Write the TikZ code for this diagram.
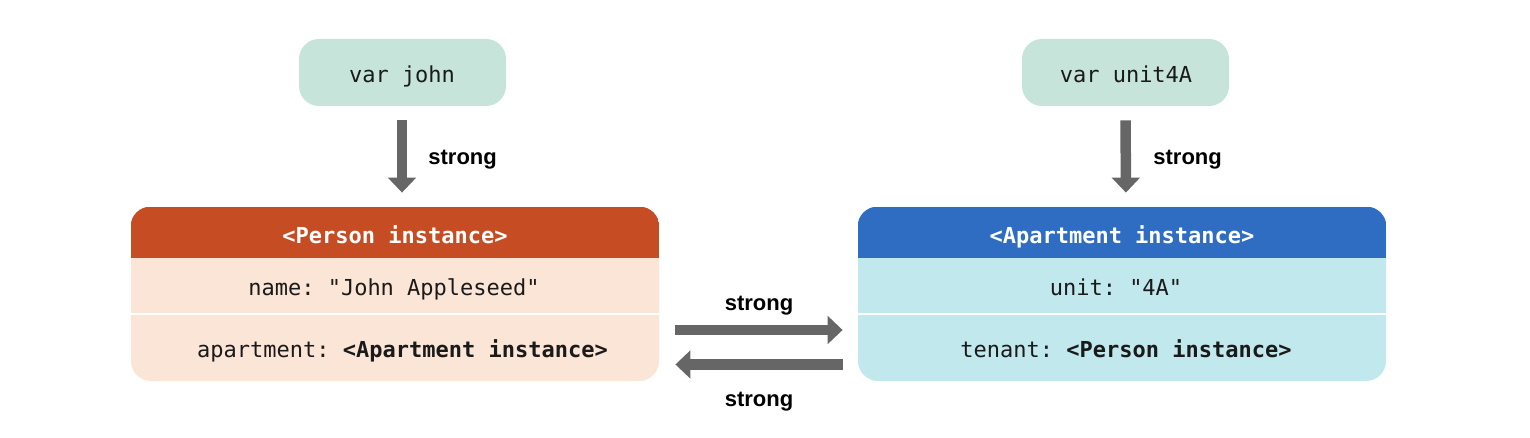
\documentclass[tikz,border=0pt]{standalone}
\usepackage{fontspec}
\setmainfont{Liberation Sans}
\setsansfont{Liberation Sans}
\setmonofont{DejaVu Sans Mono}
\usetikzlibrary{arrows.meta}
\definecolor{varfill}{HTML}{C6E4DA}
\definecolor{phead}{HTML}{C64D23}
\definecolor{pbody}{HTML}{FBE5D6}
\definecolor{ahead}{HTML}{2F6DC3}
\definecolor{abody}{HTML}{C1E8EC}
\definecolor{arrowgray}{HTML}{666666}
\definecolor{ink}{HTML}{1A1A1A}
\tikzset{
  varbox/.style={fill=varfill, rounded corners=10pt, minimum width=103.5pt, minimum height=33.5pt, inner sep=0pt},
  objbox/.style={rounded corners=10pt, minimum width=264pt, minimum height=87pt, inner sep=0pt},
  mono/.style={font=\fontsize{11pt}{13pt}\selectfont\ttfamily, text=ink, inner sep=0pt},
  headtxt/.style={font=\fontsize{11pt}{13pt}\selectfont\ttfamily\bfseries, text=white, inner sep=0pt},
  lbl/.style={font=\fontsize{11pt}{13pt}\selectfont\sffamily\bfseries, text=black, inner sep=0pt},
  strongarrow/.style={draw=arrowgray, line width=5.25pt, -{Triangle[width=13.75pt,length=7.5pt]}},
  sep/.style={draw=white, line width=1pt}
}
\begin{document}
\begin{tikzpicture}[x=0.5pt,y=-0.5pt]
\useasboundingbox (0,0) rectangle (1530,438);
% variable boxes
\node[varbox] (john) at (402.5,72.5) {};
\node[mono, anchor=base] (johntxt) at (402,83) {var john};
\node[varbox] (unit) at (1125.5,72.5) {};
\node[mono, anchor=base] (unittxt) at (1126,83) {var unit4A};
% Person instance
\node[objbox, fill=pbody] (person) at (395,294) {};
\begin{scope}
  \clip[rounded corners=10pt] (person.north west) rectangle (person.south east);
  \fill[phead] (person.north west) rectangle ([yshift=-25.5pt]person.north east);
\end{scope}
\draw[sep] ([yshift=-9.75pt]person.west) -- ([yshift=-9.75pt]person.east);
\node[headtxt, anchor=base] (phtxt) at (395,243) {<Person instance>};
\node[mono, anchor=base] (pname) at (394,295) {name: "John Appleseed"};
\node[mono, anchor=base] (papt) at (402.5,357) {apartment: \textbf{<Apartment instance>}};
% Apartment instance
\node[objbox, fill=abody] (apt) at (1122,294) {};
\begin{scope}
  \clip[rounded corners=10pt] (apt.north west) rectangle (apt.south east);
  \fill[ahead] (apt.north west) rectangle ([yshift=-25.5pt]apt.north east);
\end{scope}
\draw[sep] ([yshift=-9.75pt]apt.west) -- ([yshift=-9.75pt]apt.east);
\node[headtxt, anchor=base] (ahtxt) at (1122,243) {<Apartment instance>};
\node[mono, anchor=base] (aunit) at (1116,295) {unit: "4A"};
\node[mono, anchor=base] (aten) at (1126,357) {tenant: \textbf{<Person instance>}};
% arrows
\draw[strongarrow, shorten <=7pt, shorten >=7pt] ([xshift=-0.25pt]john.south) -- ([xshift=3.5pt]person.north);
\node[lbl, anchor=base west] (l1) at (428,165) {strong};
\draw[strongarrow, shorten <=7pt, shorten >=7pt] (unit.south) -- ([xshift=2pt]apt.north);
\node[lbl, anchor=base west] (l2) at (1153,165) {strong};
\draw[strongarrow, shorten <=8pt, shorten >=7.5pt] ([yshift=-18pt]person.east) -- ([yshift=-18pt]apt.west);
\draw[strongarrow, shorten <=7.5pt, shorten >=8pt] ([yshift=-35.25pt]apt.west) -- ([yshift=-35.25pt]person.east);
\node[lbl, anchor=base] (l3) at (759,310) {strong};
\node[lbl, anchor=base] (l4) at (759,406) {strong};
\end{tikzpicture}
\end{document}
